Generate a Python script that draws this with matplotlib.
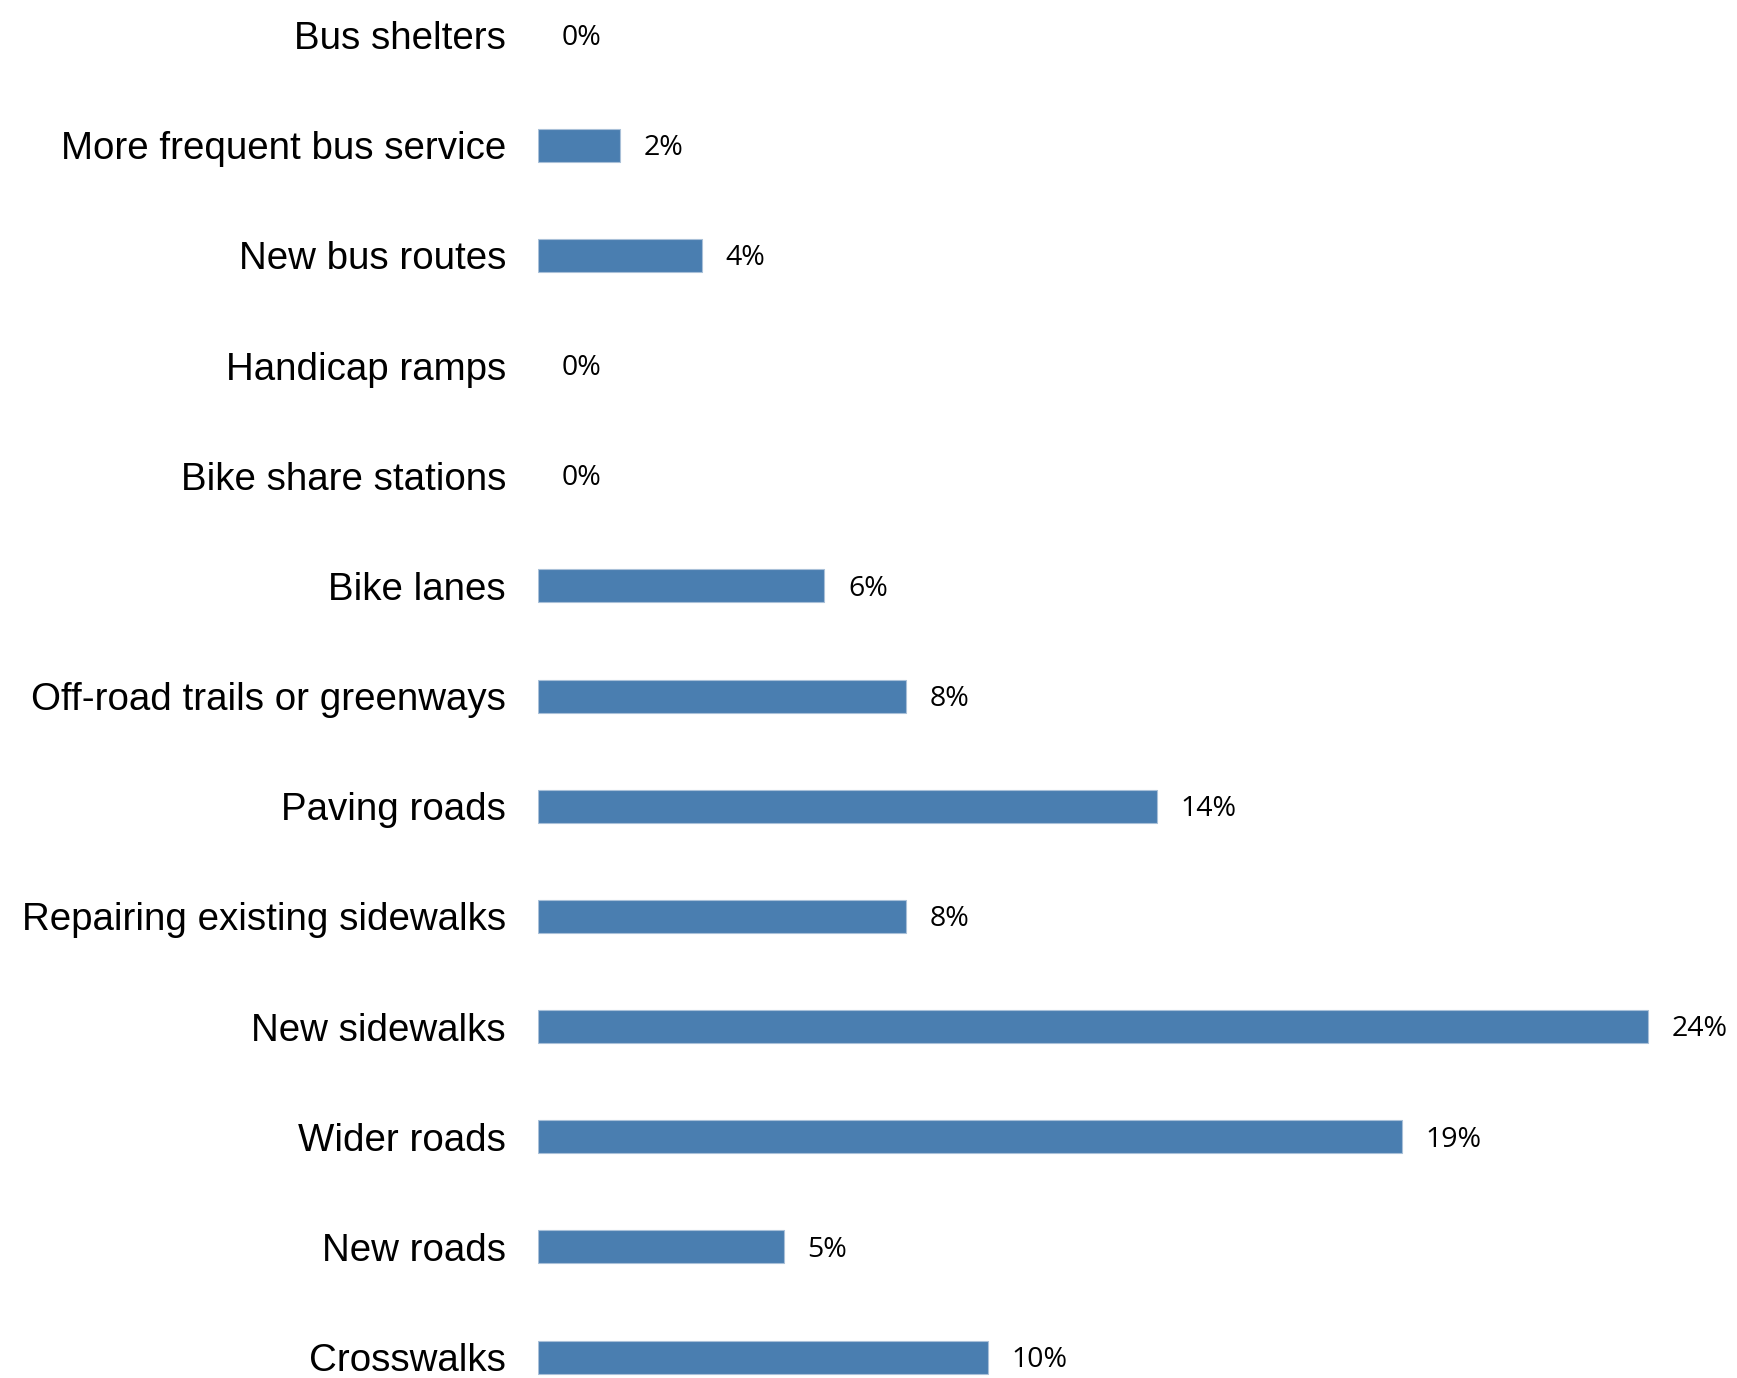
import matplotlib
matplotlib.use("Agg")
import matplotlib.pyplot as plt

categories = ["Bus shelters", "More frequent bus service", "New bus routes",
              "Handicap ramps", "Bike share stations", "Bike lanes",
              "Off-road trails or greenways", "Paving roads",
              "Repairing existing sidewalks", "New sidewalks", "Wider roads",
              "New roads", "Crosswalks"]
values = [0, 1.8, 3.6, 0, 0, 6.3, 8.1, 13.6, 8.1, 24.4, 19.0, 5.4, 9.9]
labels = ["0%", "2%", "4%", "0%", "0%", "6%", "8%", "14%", "8%", "24%", "19%", "5%", "10%"]

fig = plt.figure(figsize=(17.37, 13.78), dpi=100)
ax = fig.add_axes([0.3097, 0.0, 0.68, 1.0])

pos = list(range(len(categories)))
lw = [0.8 if v > 0 else 0 for v in values]
ax.barh(pos, values, height=0.3, color="#4A7EB0", edgecolor="#A9C0D8", linewidth=lw)

for p, v, t in zip(pos, values, labels):
    ax.annotate(t, (v, p), xytext=(17, -2), textcoords="offset points",
                ha="left", va="center", fontsize=20.5, family="Open Sans")

ax.set_yticks(pos)
ax.set_yticklabels(categories, fontsize=27.7, family="Liberation Sans")
ax.tick_params(axis="y", length=0, pad=23)
ax.set_xticks([])
ax.set_xlim(0, 25.97)
ax.set_ylim(12.19, -0.318)
for s in ax.spines.values():
    s.set_visible(False)

fig.savefig("out.png", dpi=100)
